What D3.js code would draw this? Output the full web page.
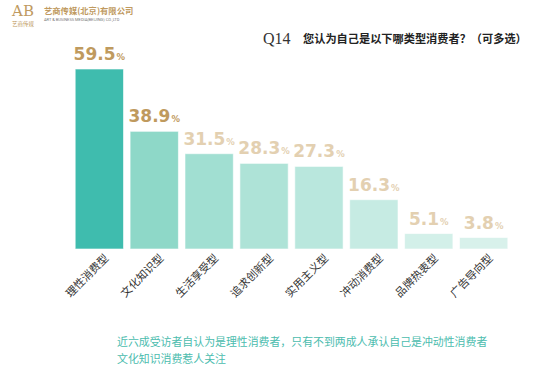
<!DOCTYPE html>
<html>
<script src='https://d3js.org/d3.v7.min.js'></script>
<style>
 body {margin:0; background:#fff;}
 text {font-family: "Noto Sans CJK SC", sans-serif;}
</style>
<body onload='init()'>
<svg width=550 height=384></svg>
<script>
var categories = ["理性消费型","文化知识型","生活享受型","追求创新型","实用主义型","冲动消费型","品牌热衷型","广告导向型"];
var values = [59.5, 38.9, 31.5, 28.3, 27.3, 16.3, 5.1, 3.8];
var barColors = ["#3fbcae","#8ed8c8","#a1dfd2","#aee3d7","#b9e7dd","#c6ebe3","#d3f0e9","#d8f1eb"];
var labelColors = ["#bf9a5e","#bf9a5e","#e3d0b1","#e3d0b1","#e3d0b1","#e3d0b1","#e3d0b1","#e3d0b1"];
var title = "您认为自己是以下哪类型消费者？（可多选）";
var notes = ["近六成受访者自认为是理性消费者，只有不到两成人承认自己是冲动性消费者","文化知识消费惹人关注"];

function init() {
 var svg = d3.select("svg");
 var x = d3.scaleBand().domain(categories).range([73, 510]).paddingInner(0.12).paddingOuter(0.04);
 var y = d3.scaleLinear().domain([0, 59.5]).range([249, 69]);

 // logo
 var gold = "#c09a60";
 svg.append("text").attr("x", 23).attr("y", 15.5).attr("text-anchor", "middle")
  .style("font-family", "'DejaVu Serif', serif").style("font-size", "15px").attr("fill", gold).text("AB");
 svg.append("text").attr("x", 23).attr("y", 26).attr("text-anchor", "middle")
  .style("font-size", "5.5px").attr("fill", gold).text("艺商传媒");
 svg.append("text").attr("x", 44).attr("y", 13.5)
  .style("font-size", "8.3px").style("font-weight", "bold").attr("fill", gold).text("艺商传媒(北京)有限公司");
 svg.append("text").attr("x", 44).attr("y", 20.5)
  .style("font-family", "Roboto").style("font-size", "4px").attr("fill", "#777")
  .text("ART & BUSINESS MEDIA(BEIJING) CO.,LTD");

 // title
 svg.append("text").attr("x", 263).attr("y", 43.5)
  .style("font-family", "'Liberation Serif', serif").style("font-size", "16px").attr("fill", "#333").text("Q14");
 svg.append("text").attr("x", 303).attr("y", 43)
  .style("font-size", "11.2px").style("font-weight", "bold").attr("fill", "#222").text(title);

 // bars
 svg.append("g").selectAll("rect").data(values).enter().append("rect")
  .attr("x", function (d, i) { return x(categories[i]); })
  .attr("y", function (d) { return y(d); })
  .attr("width", x.bandwidth())
  .attr("height", function (d) { return y(0) - y(d); })
  .attr("fill", function (d, i) { return barColors[i]; })
  .attr("stroke", "#ffffff").attr("stroke-opacity", 0.6).attr("stroke-width", 1);

 // value labels
 var lab = svg.append("g").selectAll("text").data(values).enter().append("text")
  .attr("x", function (d, i) { return x(categories[i]) + x.bandwidth() / 2; })
  .attr("y", function (d) { return y(d) - 9; })
  .attr("text-anchor", "middle")
  .style("font-family", "'DejaVu Sans'").style("font-weight", "bold")
  .attr("fill", function (d, i) { return labelColors[i]; });
 lab.append("tspan").style("font-size", "17px").text(function (d) { return d.toFixed(1); });
 lab.append("tspan").style("font-size", "8.5px").attr("dx", 1).text("%");

 // category labels
 svg.append("g").selectAll("text").data(categories).enter().append("text")
  .attr("transform", function (d) { return "translate(" + (x(d) + x.bandwidth() / 2 + 10) + ",259) rotate(-45)"; })
  .attr("text-anchor", "end")
  .style("font-size", "11px").attr("fill", "#333").text(function (d) { return d; });

 // notes
 svg.append("g").selectAll("text").data(notes).enter().append("text")
  .attr("x", 117).attr("y", function (d, i) { return 346 + i * 17; })
  .style("font-size", "10.9px").attr("fill", "#4bbcae").text(function (d) { return d; });
}
</script>
</body>
</html>
